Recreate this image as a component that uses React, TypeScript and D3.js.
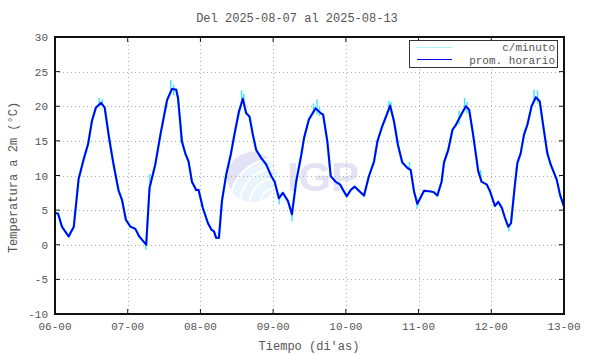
import React from "react";
import * as d3 from "d3";

const title = "Del 2025-08-07 al 2025-08-13";
const yLabel = "Temperatura a 2m (°C)";
const xLabel = "Tiempo (di'as)";
const seriesNames = ["c/minuto", "prom. horario"];

// hours since 2025-08-06 00:00
const hourOffsets = [
  0, 1, 2.3, 4.5, 6.2, 7.8, 9.5, 10.9, 12.2, 13.5, 15.2, 16.4, 17.9, 19.4, 21, 22.1, 23.4,
  24.9, 26.5, 27.8, 30.1, 31.2, 33.1, 34.8, 37, 38.6, 40, 40.6, 41.9, 43, 44.1, 45.2, 46.6, 47.4,
  48.8, 50.5, 51.6, 52.5, 53.2, 54.1, 55.1, 56.5, 58, 59.3, 60.7, 62, 63.1, 64.2, 65.3, 66.4, 68.1,
  69.7, 71.4, 72.5, 73.9, 75.2, 76.9, 78.2, 79.6, 81.3, 82.2, 83.8, 86, 87.7, 88.5, 89.9, 91, 92.6,
  94.1, 95.1, 96.3, 97.6, 98.9, 100.3, 102, 103.6, 105.3, 106.4, 108, 109.5, 110.6, 111.9, 113.2,
  114.6, 116.3, 117.4, 118.5, 119.6, 121.8, 123.8, 125, 126.2, 127.6, 128.4, 129.8, 131.2, 132.3,
  134.2, 135.6, 136.7, 138, 139.7, 140.8, 142.5, 143.6, 145.2, 146.3, 147.5, 148.5, 149.6, 150.5,
  151.8, 152.6, 153.7, 154.8, 155.9, 157.3, 158.7, 160, 161.1, 162.5, 163.6, 165.6, 166.7, 168,
];
const hourlyTemps = [
  4.6, 4.5, 2.6, 1.2, 2.6, 9.5, 12.4, 14.5, 17.9, 19.8, 20.5, 19.8, 15.3, 11.4, 7.8, 6.5, 3.6,
  2.6, 2.3, 1.2, 0.0, 8.2, 11.6, 15.9, 20.9, 22.5, 22.4, 21.2, 14.9, 13.2, 12.0, 9.1, 7.9, 7.9,
  5.3, 3.1, 2.2, 1.9, 1.0, 1.0, 6.3, 10.1, 13.0, 16.1, 19.2, 21.1, 19.0, 18.5, 15.9, 13.7, 12.5,
  11.6, 9.9, 9.1, 6.7, 7.5, 6.3, 4.4, 9.1, 13.0, 15.4, 18.1, 19.7, 19.0, 18.8, 14.9, 9.9, 9.1,
  8.7, 7.9, 7.0, 7.9, 8.4, 7.8, 7.1, 9.9, 12.0, 14.9, 17.1, 18.8, 20.1, 17.8, 14.4,
  11.9, 11.1, 10.8, 7.7, 5.9, 7.8, 7.7, 7.6, 7.1, 9.1, 11.9, 13.7, 16.6, 17.3,
  18.9, 20.0, 19.5, 15.9, 10.6, 9.1, 8.7, 7.7, 5.6, 6.2, 5.3, 3.9, 2.6, 3.1,
  8.7, 11.8, 13.2, 15.9, 17.3, 20.0, 21.3, 20.7, 17.3, 13.2, 11.6, 9.4, 7.2, 5.5,
];
// per-minute excursions: hour, low, high
const minuteSpikeHours = [14.6, 15.6, 30.0, 31.3, 38.2, 39.2, 41.6, 61.6, 62.3, 74.0, 78.2, 85.3, 86.5, 87.3, 110.2, 110.9, 117.0, 119.5, 133.4, 135.2, 136.0, 140.5, 149.8, 158.1, 159.3];
const minuteSpikeLows = [19.9, 20.0, -0.7, 7.6, 21.8, 21.6, 14.8, 20.4, 20.6, 5.8, 3.4, 18.9, 18.8, 18.6, 19.4, 19.6, 10.6, 5.2, 17.4, 19.3, 19.0, 9.0, 1.9, 20.5, 20.4];
const minuteSpikeHighs = [21.2, 21.0, 0.6, 10.2, 23.8, 23.1, 17.0, 22.3, 21.8, 7.4, 5.0, 20.4, 21.0, 19.8, 20.8, 20.6, 12.0, 6.6, 19.4, 21.2, 20.6, 10.8, 3.1, 22.4, 22.3];

const yTicks = [-10, -5, 0, 5, 10, 15, 20, 25, 30];
const xTickDays = [6, 7, 8, 9, 10, 11, 12, 13];

const W = 590, H = 354;
const L = 55, R = 564, T = 37, B = 314;
const FONT = "'Courier New', 'Liberation Mono', monospace";
const TEXT = "#555";
const CYAN = "#3ce4ff";
const BLUE = "#0000f4";

const base = Date.UTC(2025, 7, 6, 0, 0, 0);
const toDate = (h: number) => new Date(base + h * 3600e3);

export default function App() {
  const x = d3.scaleUtc().domain([toDate(0), toDate(168)]).range([L, R]);
  const y = d3.scaleLinear().domain([-10, 30]).range([B, T]);
  const fmt = d3.utcFormat("%d-%H");
  const xTicks = xTickDays.map((d) => new Date(Date.UTC(2025, 7, d, 0, 0, 0)));

  const pts: [number, number][] = hourOffsets.map((h, i) => [h, hourlyTemps[i]]);
  const line = d3
    .line<[number, number]>()
    .x((d) => x(toDate(d[0])))
    .y((d) => y(d[1]));
  const path = line(pts) || "";

  const wcx = 252, wcy = 177, wr = 25;

  return (
    <svg
      width={W}
      height={H}
      style={{ position: "absolute", left: 0, top: 0, background: "#fff" }}
      fontFamily={FONT}
    >
      <rect x={0} y={0} width={W} height={H} fill="#fff" />
      {/* watermark */}
      <g>
        <defs>
          <clipPath id="wmclip">
            <circle cx={wcx} cy={wcy} r={wr} />
          </clipPath>
        </defs>
        <circle cx={wcx} cy={wcy} r={wr} fill="#e3e3f5" />
        <g clipPath="url(#wmclip)">
          <circle cx={wcx + 22} cy={wcy + 26} r={44} fill="#e9f4fd" />
          <circle cx={wcx + 22} cy={wcy + 26} r={44} fill="none" stroke="#fff" strokeWidth={2} />
          <circle cx={wcx + 22} cy={wcy + 26} r={34} fill="none" stroke="#fff" strokeWidth={2} />
          <circle cx={wcx + 22} cy={wcy + 26} r={24} fill="none" stroke="#fff" strokeWidth={2} />
          <circle cx={wcx + 22} cy={wcy + 26} r={14} fill="none" stroke="#fff" strokeWidth={2} />
        </g>
        <text
          x={287}
          y={191}
          fontFamily="'Liberation Sans', Arial, sans-serif"
          fontWeight="bold"
          fontSize={41}
          fill="#e3e3f5"
          textLength={72}
          lengthAdjust="spacingAndGlyphs"
        >
          IGP
        </text>
      </g>

      {/* grid */}
      <g stroke="#b0b0b0" strokeWidth={1} strokeDasharray="1,3">
        {yTicks.slice(1, -1).map((t) => (
          <line key={"gy" + t} x1={L} x2={R} y1={Math.round(y(t)) + 0.5} y2={Math.round(y(t)) + 0.5} />
        ))}
        {xTicks.slice(1, -1).map((t, i) => (
          <line key={"gx" + i} x1={Math.round(x(t)) + 0.5} x2={Math.round(x(t)) + 0.5} y1={T} y2={B} />
        ))}
      </g>

      {/* minute data */}
      <path d={path} fill="none" stroke={CYAN} strokeWidth={2.4} strokeLinejoin="round" />
      {minuteSpikeHours.map((h, i) => (
        <line
          key={"sp" + i}
          x1={x(toDate(h))}
          x2={x(toDate(h))}
          y1={y(minuteSpikeLows[i])}
          y2={y(minuteSpikeHighs[i])}
          stroke={CYAN}
          strokeWidth={1.4}
        />
      ))}
      {/* hourly mean */}
      <path d={path} fill="none" stroke={BLUE} strokeWidth={1.9} strokeLinejoin="round" />

      {/* ticks */}
      <g stroke="#111" strokeWidth={1}>
        {yTicks.map((t) => (
          <g key={"ty" + t}>
            <line x1={L} x2={L + 5} y1={y(t)} y2={y(t)} />
            <line x1={R - 5} x2={R} y1={y(t)} y2={y(t)} />
          </g>
        ))}
        {xTicks.map((t, i) => (
          <g key={"tx" + i}>
            <line x1={x(t)} x2={x(t)} y1={B} y2={B - 5} />
            <line x1={x(t)} x2={x(t)} y1={T} y2={T + 5} />
          </g>
        ))}
      </g>
      <rect x={L} y={T} width={R - L} height={B - T} fill="none" stroke="#111" strokeWidth={2} />

      {/* tick labels */}
      <g fontSize={11} fill={TEXT}>
        {yTicks.map((t) => (
          <text key={"ly" + t} x={L - 7} y={y(t) + 4} textAnchor="end">
            {t}
          </text>
        ))}
        {xTicks.map((t, i) => (
          <text key={"lx" + i} x={x(t)} y={330} textAnchor="middle">
            {fmt(t)}
          </text>
        ))}
      </g>

      {/* titles */}
      <text x={297} y={22} textAnchor="middle" fontSize={12} fill={TEXT}>
        {title}
      </text>
      <text x={309} y={350} textAnchor="middle" fontSize={12} fill={TEXT}>
        {xLabel}
      </text>
      <text
        transform={`translate(17,${(T + B) / 2 + 2}) rotate(-90)`}
        textAnchor="middle"
        fontSize={12}
        fill={TEXT}
      >
        {yLabel}
      </text>

      {/* legend */}
      <g>
        <rect x={409.5} y={40.5} width={148} height={27} fill="#fff" stroke="#333" strokeWidth={1} />
        <line x1={417} x2={452} y1={47.5} y2={47.5} stroke="#a8f6ff" strokeWidth={1} />
        <line x1={417} x2={452} y1={59.5} y2={59.5} stroke={BLUE} strokeWidth={1} />
        <text x={555} y={51} textAnchor="end" fontSize={11} fill={TEXT}>
          {seriesNames[0]}
        </text>
        <text x={555} y={64} textAnchor="end" fontSize={11} fill={TEXT}>
          {seriesNames[1]}
        </text>
      </g>
    </svg>
  );
}
